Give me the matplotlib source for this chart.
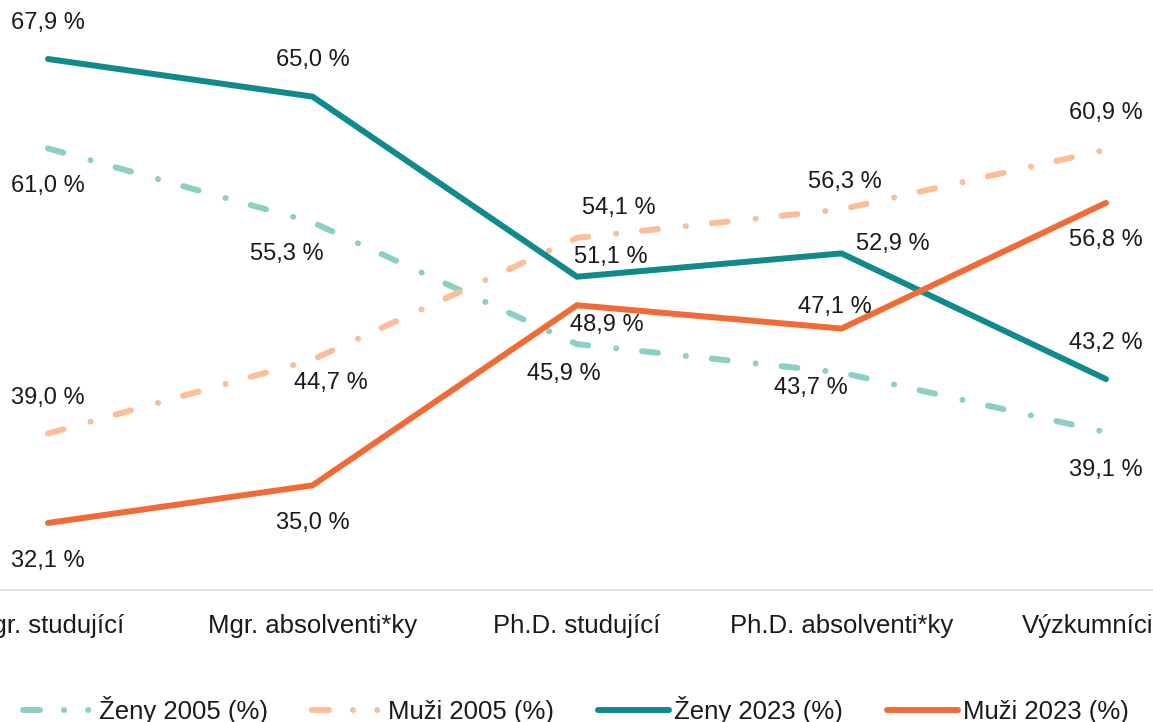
import matplotlib.pyplot as plt
from matplotlib.lines import Line2D

plt.rcParams['font.family'] = ['Liberation Sans', 'DejaVu Sans']
plt.rcParams['lines.scale_dashes'] = False

categories = ["Mgr. studující", "Mgr. absolventi*ky", "Ph.D. studující",
              "Ph.D. absolventi*ky", "Výzkumníci*ce"]
zeny_2005 = [61.0, 55.3, 45.9, 43.7, 39.1]
muzi_2005 = [39.0, 44.7, 54.1, 56.3, 60.9]
zeny_2023 = [67.9, 65.0, 51.1, 52.9, 43.2]
muzi_2023 = [32.1, 35.0, 48.9, 47.1, 56.8]

# label offsets in pixels (dx right, dy down)
off_z05 = [(0, 38), (-26, 32), (-13, 30), (-31, 15), (0, 38)]
off_m05 = [(0, -36), (18, 23), (42, -30), (3, -27), (0, -37)]
off_z23 = [(0, -36), (0, -37), (34, -20), (51, -9), (0, -36)]
off_m23 = [(0, 38), (0, 38), (30, 20), (-7, -22), (0, 37)]

c_z05 = "#8CCFC3"
c_m05 = "#FABE98"
c_z23 = "#0F8B8D"
c_m23 = "#F06C37"
txt = '#1a1a1a'

W, H = 1153, 722
fig = plt.figure(figsize=(W / 100, H / 100), dpi=100)
step = 264.5
ax = fig.add_axes([(48 - step / 2) / W, (H - 590) / H, 5 * step / W, 590 / H])
x = list(range(len(categories)))

lw = 4.3
dash = (11.5, 20.2, 0.1, 18.7)
ax.plot(x, zeny_2005, color=c_z05, lw=lw, dashes=dash, dash_capstyle='round')
ax.plot(x, muzi_2005, color=c_m05, lw=lw, dashes=dash, dash_capstyle='round')
ax.plot(x, zeny_2023, color=c_z23, lw=lw, solid_capstyle='round', solid_joinstyle='miter')
ax.plot(x, muzi_2023, color=c_m23, lw=lw, solid_capstyle='round', solid_joinstyle='miter')

for vals, offs in [(zeny_2005, off_z05), (muzi_2005, off_m05),
                   (zeny_2023, off_z23), (muzi_2023, off_m23)]:
    for i, (v, (dx, dy)) in enumerate(zip(vals, offs)):
        ax.annotate(f"{v:.1f} %".replace('.', ','), (i, v),
                    xytext=(dx * 0.72, -dy * 0.72), textcoords='offset points',
                    ha='center', va='center', fontsize=17, color=txt,
                    annotation_clip=False)

ax.set_xlim(-0.5, 4.5)
ax.set_ylim(67.9 - 531 / 12.96, 67.9 + 59 / 12.96)
ax.set_yticks([])
ax.set_xticks(x)
ax.set_xticklabels(categories, fontsize=18.5, color=txt)
ax.tick_params(axis='x', length=0, pad=17)
for s in ['top', 'left', 'right']:
    ax.spines[s].set_visible(False)
ax.spines['bottom'].set_color('#D9D9D9')
ax.spines['bottom'].set_linewidth(1.1)

leg_dash = (12.2, 17.3, 0.1, 17.3, 0.1, 40)
handles = [
    Line2D([], [], color=c_z05, lw=lw, dashes=leg_dash, dash_capstyle='round'),
    Line2D([], [], color=c_m05, lw=lw, dashes=leg_dash, dash_capstyle='round'),
    Line2D([], [], color=c_z23, lw=lw, solid_capstyle='round'),
    Line2D([], [], color=c_m23, lw=lw, solid_capstyle='round'),
]
labels = ["Ženy 2005 (%)", "Muži 2005 (%)", "Ženy 2023 (%)", "Muži 2023 (%)"]
fig.legend(handles, labels, loc='center', bbox_to_anchor=(576 / W, 1 - 710 / H),
           ncol=4, frameon=False, fontsize=18.5, handlelength=2.75,
           handletextpad=0.2, columnspacing=1.72, labelcolor=txt)

fig.savefig("out.png", dpi=100)
